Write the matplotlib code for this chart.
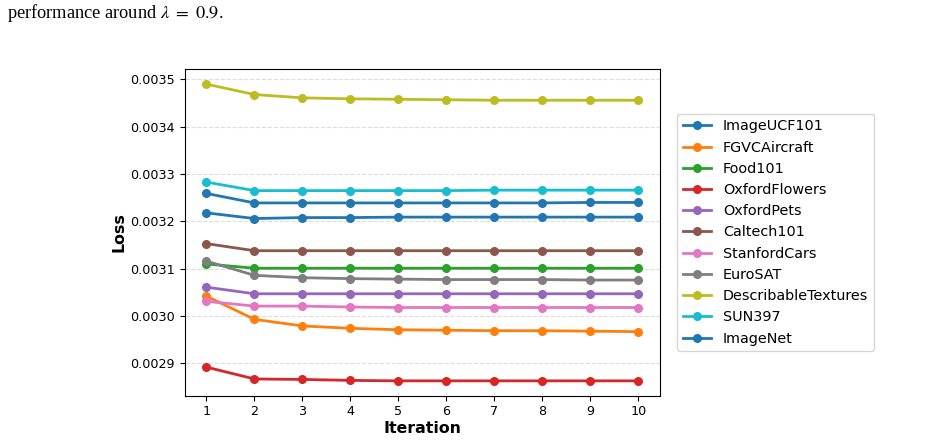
import matplotlib
matplotlib.use('Agg')
import matplotlib.pyplot as plt

iterations = [1, 2, 3, 4, 5, 6, 7, 8, 9, 10]

image_ucf101 = [0.003259, 0.003239, 0.003239, 0.003239, 0.003239, 0.003239, 0.003239, 0.003239, 0.003240, 0.003240]
fgvc_aircraft = [0.003042, 0.002993, 0.002979, 0.002974, 0.002971, 0.002970, 0.002969, 0.002969, 0.002968, 0.002967]
food101 = [0.003110, 0.003101, 0.003101, 0.003101, 0.003101, 0.003101, 0.003101, 0.003101, 0.003101, 0.003101]
oxford_flowers = [0.002892, 0.002867, 0.002866, 0.002864, 0.002863, 0.002863, 0.002863, 0.002863, 0.002863, 0.002863]
oxford_pets = [0.003061, 0.003047, 0.003047, 0.003047, 0.003047, 0.003047, 0.003047, 0.003047, 0.003047, 0.003047]
caltech101 = [0.003153, 0.003138, 0.003138, 0.003138, 0.003138, 0.003138, 0.003138, 0.003138, 0.003138, 0.003138]
stanford_cars = [0.003031, 0.003021, 0.003021, 0.003019, 0.003018, 0.003018, 0.003018, 0.003018, 0.003018, 0.003018]
eurosat = [0.003116, 0.003086, 0.003081, 0.003079, 0.003078, 0.003077, 0.003077, 0.003077, 0.003076, 0.003076]
dtd = [0.003490, 0.003468, 0.003461, 0.003459, 0.003458, 0.003457, 0.003456, 0.003456, 0.003456, 0.003456]
sun397 = [0.003283, 0.003265, 0.003265, 0.003265, 0.003265, 0.003265, 0.003266, 0.003266, 0.003266, 0.003266]
imagenet = [0.003218, 0.003206, 0.003208, 0.003208, 0.003209, 0.003209, 0.003209, 0.003209, 0.003209, 0.003209]

namen = ['ImageUCF101', 'FGVCAircraft', 'Food101', 'OxfordFlowers', 'OxfordPets',
         'Caltech101', 'StanfordCars', 'EuroSAT', 'DescribableTextures', 'SUN397', 'ImageNet']
reeksen = [image_ucf101, fgvc_aircraft, food101, oxford_flowers, oxford_pets,
           caltech101, stanford_cars, eurosat, dtd, sun397, imagenet]

fig = plt.figure(figsize=(9.43, 4.4), dpi=100)
ax = fig.add_axes([0.196, 0.1007, 0.504, 0.7418])

for naam, waarden in zip(namen, reeksen):
    ax.plot(iterations, waarden, marker='o', markersize=5.5, linewidth=2, label=naam)

ax.set_xticks(iterations)
ax.tick_params(labelsize=9.2)
ax.grid(axis='y', linestyle='--', color='#dddddd', linewidth=0.8)
ax.set_xlabel('Iteration', fontweight='bold', fontsize=11.3, labelpad=2)
ax.set_ylabel('Loss', fontweight='bold', fontsize=11.3, labelpad=3)
ax.legend(loc='center left', bbox_to_anchor=(1.02, 0.5), fontsize=10.4)

# stukje van het bijschrift uit het paper
fig.text(0.007, 0.97, r'performance around $\lambda\ =\ 0.9$.', family='Liberation Serif',
         math_fontfamily='stix', fontsize=13.2, va='center', ha='left')

fig.savefig('out.png', dpi=100)
